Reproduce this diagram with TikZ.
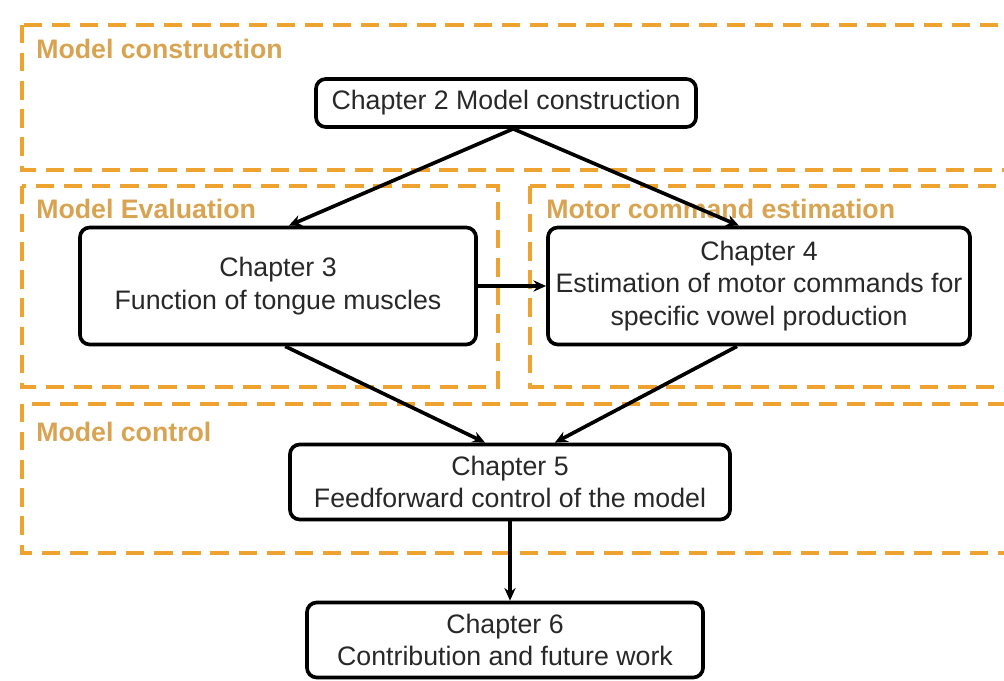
\documentclass[tikz,border=0pt]{standalone}
\usepackage{fontspec}
\setmainfont{Liberation Sans}
\usetikzlibrary{arrows.meta}
\definecolor{regionorange}{RGB}{238,162,48}
\definecolor{labelorange}{RGB}{216,164,82}
\definecolor{chaptertext}{RGB}{40,40,40}
\tikzset{
  region/.style={regionorange, line width=3.2pt, dash pattern=on 13pt off 7pt},
  regionlabel/.style={anchor=west, inner sep=0pt, text=labelorange,
    font=\fontsize{19}{23}\selectfont\bfseries},
  chapter/.style={draw, fill=white, rounded corners=7pt, line width=2.6pt, align=center,
    inner sep=0pt, text=chaptertext, font=\fontsize{19}{23}\selectfont},
  flow/.style={line width=2.6pt, -{Stealth[length=9pt,width=8pt]}}
}

\begin{document}
\begin{tikzpicture}[x=0.025cm,y=-0.025cm]
\clip (0,0) rectangle (1004,681);
\fill [white] (0,0) rectangle (1004,681);
% regions
\draw [region] (22,25) rectangle (1040,170);
\draw [region] (22,186) rectangle (498,387);
\draw [region] (530,186) rectangle (1040,387);
\draw [region] (22,404) rectangle (1040,553);
\node [regionlabel] (lconstr) at (36,49) {Model construction};
\node [regionlabel] (leval) at (36,209) {Model Evaluation};
\node [regionlabel] (lmotor) at (546,209) {Motor command estimation};
\node [regionlabel] (lcontrol) at (36,432) {Model control};
% chapters
\node [chapter, minimum width=9.5cm, minimum height=1.2cm] (ch2) at (506,103)
  {Chapter 2 Model construction};
\node [chapter, minimum width=9.9cm, minimum height=2.925cm] (ch3) at (278,286)
  {Chapter 3\\Function of tongue muscles};
\node [chapter, minimum width=10.55cm, minimum height=2.925cm] (ch4) at (759,286)
  {Chapter 4\\Estimation of motor commands for\\specific vowel production};
\node [chapter, minimum width=11cm, minimum height=1.875cm] (ch5) at (510,482)
  {Chapter 5\\Feedforward control of the model};
\node [chapter, minimum width=9.9cm, minimum height=1.875cm] (ch6) at (505,640)
  {Chapter 6\\Contribution and future work};
% arrows
\draw [flow] ([xshift=0.18cm]ch2.south) -- ([xshift=0.27cm]ch3.north);
\draw [flow] ([xshift=0.18cm]ch2.south) -- ([xshift=-0.5cm]ch4.north);
\draw [flow] (ch3.east) -- (ch4.west);
\draw [flow] ([xshift=0.18cm]ch3.south) -- ([xshift=-0.62cm]ch5.north);
\draw [flow] ([xshift=-0.55cm]ch4.south) -- ([xshift=1.12cm]ch5.north);
\draw [flow] (ch5.south) -- (ch5.south |- ch6.north);
\end{tikzpicture}
\end{document}
